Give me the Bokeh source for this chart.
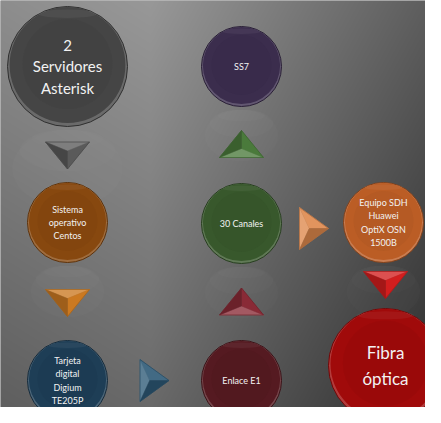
import numpy as np
from bokeh.plotting import figure
from bokeh.models import Range1d
from bokeh.core.properties import value
from bokeh.embed import file_html
from bokeh.resources import INLINE

# ---------------- data ----------------
node_labels = ["2\nServidores\nAsterisk", "SS7", "Sistema\noperativo\nCentos", "30 Canales",
               "Equipo SDH\nHuawei\nOptiX OSN\n1500B", "Tarjeta\ndigital\nDigium\nTE205P",
               "Enlace E1", "Fibra\nóptica"]
node_colors = ["#454545", "#3b2d4d", "#87480f", "#38582c", "#bb5d25", "#1e3e56", "#551a21", "#a00a0a"]

arrow_dirs = ["down", "up", "right", "down", "up", "down", "right"]
arrow_colors = ["#5a5a5a", "#4a7a3b", "#de884c", "#d21e1e", "#892a36", "#cb7921", "#2d5976"]

# ---------------- layout (reference pixel coordinates) ----------------
node_x = [67, 241, 67, 241, 383, 67, 241, 385]
node_y = [66, 66, 222, 223, 222, 380, 380, 365]
node_r = [60, 40, 40, 40, 40, 40, 40, 57]
node_font = ["15px", "9px", "9px", "9px", "9px", "9px", "9px", "17px"]
node_reflect = [True, True, True, True, True, False, False, False]

arrow_x = [67, 241, 313.5, 385, 241, 67, 154]
arrow_y = [155, 143.5, 228, 284.5, 301, 302.5, 380]
ARROW_LEN, ARROW_W = 27, 44

W, H = 441, 423
PW, PH = 425, 407


def mix(c, other, t):
    a = [int(c[i:i + 2], 16) for i in (1, 3, 5)]
    b = [int(other[i:i + 2], 16) for i in (1, 3, 5)]
    m = [round(a[k] * (1 - t) + b[k] * t) for k in range(3)]
    return "#%02x%02x%02x" % tuple(m)


p = figure(width=PW, height=PH, output_backend="svg", toolbar_location=None,
           x_range=Range1d(0, PW), y_range=Range1d(-PH, 0), min_border=0)
p.axis.visible = False
p.grid.visible = False
p.outline_line_color = None
p.background_fill_color = "#7a7a7a"
p.border_fill_color = "#7a7a7a"

# ---------------- background gradient ----------------
xs = np.arange(W)[None, :].astype(float)
ys = np.arange(H)[:, None].astype(float)
v = 152 - 0.21 * np.clip(xs - 150, 0, None) - 0.07 * np.clip(150 - xs, 0, None) - 0.115 * ys
v = np.clip(v, 0, 255).astype(np.uint32)
img = (255 << 24) | (v << 16) | (v << 8) | v
img = np.flipud(img).astype(np.uint32)
p.image_rgba(image=[img], x=0, y=-H, dw=W, dh=H)

# ---------------- reflections ----------------
for cx, cy, r, refl in zip(node_x, node_y, node_r, node_reflect):
    if not refl:
        continue
    top = cy + r + 3
    for hf, wf in [(1.3, 0.92), (0.7, 0.8), (0.3, 0.6)]:
        h = r * hf
        p.ellipse(x=cx, y=-(top + h / 2), width=2 * r * wf, height=h,
                  fill_color="white", fill_alpha=0.016, line_color=None)

# ---------------- circles ----------------
for cx, cy, r, col in zip(node_x, node_y, node_r, node_colors):
    rim = mix(col, "#ffffff", 0.2)
    dark = mix(col, "#000000", 0.3)
    p.circle(x=cx, y=-cy, radius=r, fill_color=rim, line_color=dark, line_width=1)
    p.circle(x=cx, y=-(cy - r * 0.025), radius=r * 0.965, fill_color=col, line_color=None)
    p.circle(x=cx, y=-(cy - r * 0.04), radius=r * 0.75, fill_color=dark, fill_alpha=0.1, line_color=None)
    p.ellipse(x=cx, y=-(cy - r * 0.88), width=r * 1.0, height=r * 0.14,
              fill_color="white", fill_alpha=0.05, line_color=None)

# ---------------- labels ----------------
for cx, cy, lab, fs in zip(node_x, node_y, node_labels, node_font):
    p.text(x=cx, y=-cy, text=[lab], text_font=value("Lato"), text_font_size=fs,
           text_color="#f2f2f2", text_align="center", text_baseline="middle",
           text_line_height=1.2)

# ---------------- arrows (bevelled triangles) ----------------
for cx, cy, d, col in zip(arrow_x, arrow_y, arrow_dirs, arrow_colors):
    L, Wd = ARROW_LEN, ARROW_W
    if d == "down":
        A = (cx - Wd / 2, cy - L / 2); B = (cx + Wd / 2, cy - L / 2); C = (cx, cy + L / 2)
    elif d == "up":
        A = (cx - Wd / 2, cy + L / 2); B = (cx + Wd / 2, cy + L / 2); C = (cx, cy - L / 2)
    else:
        L, Wd = 29, 42
        A = (cx - L / 2, cy + Wd / 2); B = (cx - L / 2, cy - Wd / 2); C = (cx + L / 2, cy)
    O = ((A[0] + B[0] + C[0]) / 3, (A[1] + B[1] + C[1]) / 3)
    light = mix(col, "#ffffff", 0.22)
    darkc = mix(col, "#000000", 0.22)
    faces = [(A, B, light), (B, C, col), (C, A, darkc)]
    if d == "right":
        faces = [(A, B, light), (B, C, mix(col, "#ffffff", 0.1)), (C, A, darkc)]
    for P1, P2, fc in faces:
        p.patch(x=[P1[0], P2[0], O[0]], y=[-P1[1], -P2[1], -O[1]],
                fill_color=fc, line_color=fc, line_width=0.5)
    p.patch(x=[A[0], B[0], C[0]], y=[-A[1], -B[1], -C[1]], fill_color=None,
            line_color=mix(col, "#000000", 0.2), line_width=0.7)

open("out.html", "w").write(file_html(p, INLINE))
